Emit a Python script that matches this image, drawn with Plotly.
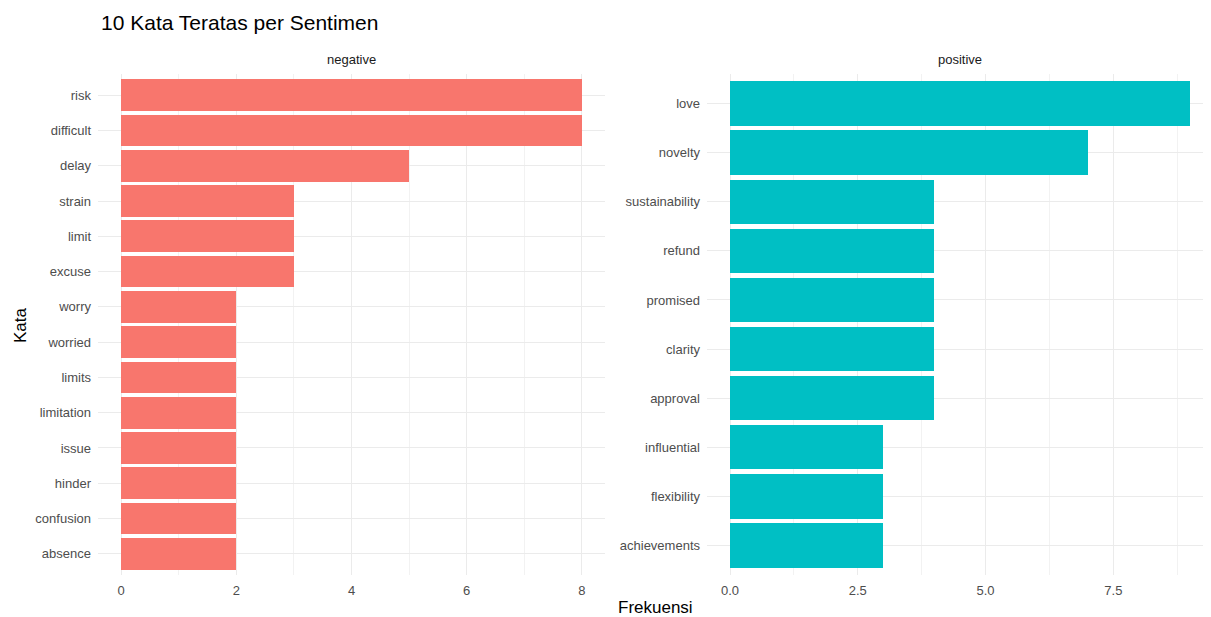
import plotly.graph_objects as go

# Data (top-to-bottom order as shown)
neg_words = ["risk", "difficult", "delay", "strain", "limit", "excuse", "worry",
             "worried", "limits", "limitation", "issue", "hinder", "confusion", "absence"]
neg_counts = [8, 8, 5, 3, 3, 3, 2, 2, 2, 2, 2, 2, 2, 2]
pos_words = ["love", "novelty", "sustainability", "refund", "promised", "clarity",
             "approval", "influential", "flexibility", "achievements"]
pos_counts = [9, 7, 4, 4, 4, 4, 4, 3, 3, 3]

NEG_COLOR = "#F8766D"
POS_COLOR = "#00BFC4"
W, H = 1211, 617
OX, OY = 8, 8  # page body margin offset
FONT = "Liberation Sans, Arial, sans-serif"


def px(x):
    return (x - OX) / W


def py(y):
    return 1 - (y - OY) / H


fig = go.Figure()
fig.add_trace(go.Bar(y=neg_words, x=neg_counts, orientation="h", width=0.9,
                     marker=dict(color=NEG_COLOR, line=dict(width=0)),
                     xaxis="x", yaxis="y", showlegend=False))
fig.add_trace(go.Bar(y=pos_words, x=pos_counts, orientation="h", width=0.9,
                     marker=dict(color=POS_COLOR, line=dict(width=0)),
                     xaxis="x2", yaxis="y2", showlegend=False))

grid = "#EBEBEB"
tickfont = dict(family=FONT, size=13, color="#4D4D4D")


def xax(domain, anchor, rng, dtick, mdtick, fmt):
    return dict(domain=domain, anchor=anchor, range=rng, dtick=dtick, tick0=0,
                tickformat=fmt, showgrid=True, gridcolor=grid, gridwidth=1.1,
                zeroline=False, showline=False, ticks="", tickfont=tickfont,
                ticklabelstandoff=6,
                minor=dict(dtick=mdtick, tick0=0, showgrid=True, gridcolor="#F2F2F2",
                           gridwidth=0.6),
                automargin=False, fixedrange=True)


def yax(anchor, cats, n):
    return dict(domain=[py(575), py(74)], anchor=anchor, type="category",
                categoryorder="array", categoryarray=list(reversed(cats)),
                range=[-0.6, n - 0.4], showgrid=True, gridcolor=grid, gridwidth=1.1,
                zeroline=False, showline=False, ticks="", tickfont=tickfont,
                ticklabelstandoff=6, automargin=False, fixedrange=True)


fig.update_layout(
    width=W, height=H,
    margin=dict(l=0, r=0, t=0, b=0),
    plot_bgcolor="white", paper_bgcolor="white",
    bargap=0,
    xaxis=xax([px(98), px(605)], "y", [-0.4, 8.4], 2, 1, "d"),
    yaxis=yax("x", neg_words, len(neg_words)),
    xaxis2=xax([px(707), px(1213)], "y2", [-0.45, 9.45], 2.5, 1.25, ".1f"),
    yaxis2=yax("x2", pos_words, len(pos_words)),
    annotations=[
        dict(text="10 Kata Teratas per Sentimen", x=px(99), y=py(22),
             xref="paper", yref="paper", xanchor="left", yanchor="middle",
             showarrow=False, font=dict(family=FONT, size=21, color="black")),
        dict(text="negative", x=px((98 + 605) / 2), y=py(60),
             xref="paper", yref="paper", xanchor="center", yanchor="middle",
             showarrow=False, font=dict(family=FONT, size=13, color="#1A1A1A")),
        dict(text="positive", x=px((707 + 1213) / 2), y=py(60),
             xref="paper", yref="paper", xanchor="center", yanchor="middle",
             showarrow=False, font=dict(family=FONT, size=13, color="#1A1A1A")),
        dict(text="Kata", x=px(20), y=py(325), textangle=-90,
             xref="paper", yref="paper", xanchor="center", yanchor="middle",
             showarrow=False, font=dict(family=FONT, size=17, color="black")),
        dict(text="Frekuensi", x=px(655), y=py(607),
             xref="paper", yref="paper", xanchor="center", yanchor="middle",
             showarrow=False, font=dict(family=FONT, size=17, color="black")),
    ],
)

fig.write_html("out.html")
